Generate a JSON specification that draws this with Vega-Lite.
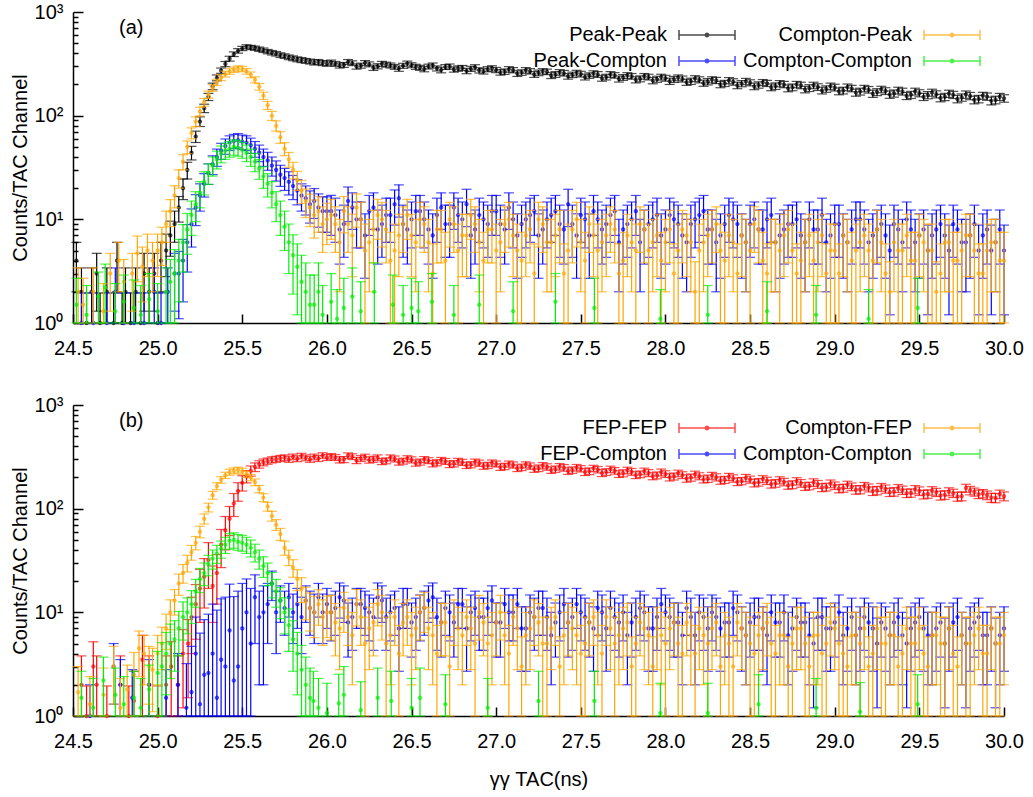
{
"$schema":"https://vega.github.io/schema/vega-lite/v6.json",
"background":"white",
"padding":{"left":10,"top":2,"right":5,"bottom":5},
"config":{"font":"Liberation Sans","view":{"stroke":null},
"axis":{"grid":false,"domainColor":"#000000","domainWidth":1.5,"tickColor":"#000000","tickWidth":1.5,"labelFont":"Liberation Sans","labelFontSize":20,"labelColor":"#000000","titleFont":"Liberation Sans","titleFontSize":20,"titleFontWeight":"normal","titleColor":"#000000"},
"legend":{"labelFont":"Liberation Sans","labelFontSize":20,"labelColor":"#000000"}},
"spacing":37,
"resolve":{"scale":{"color":"independent","x":"independent","y":"independent"}},
"datasets":{
"aPP":[{"x":24.52,"y":4,"e":2},{"x":24.55,"y":2,"e":1.4},{"x":24.58,"y":1,"e":0.95},{"x":24.61,"y":2,"e":1.4},{"x":24.64,"y":3,"e":1.7},{"x":24.66,"y":1,"e":0.95},{"x":24.7,"y":2,"e":1.4},{"x":24.74,"y":1,"e":0.95},{"x":24.76,"y":4,"e":2},{"x":24.79,"y":1,"e":0.95},{"x":24.81,"y":2,"e":1.4},{"x":24.84,"y":1,"e":0.95},{"x":24.87,"y":2,"e":1.4},{"x":24.9,"y":1,"e":0.95},{"x":24.92,"y":3,"e":1.7},{"x":24.95,"y":2,"e":1.4},{"x":24.98,"y":3,"e":1.7},{"x":25.0,"y":1,"e":0.95},{"x":25.02,"y":4,"e":2},{"x":25.05,"y":5,"e":2.2},{"x":25.075,"y":7,"e":2.6},{"x":25.1,"y":9,"e":3},{"x":25.125,"y":13,"e":3.6},{"x":25.15,"y":20,"e":4.5},{"x":25.175,"y":30,"e":5.5},{"x":25.2,"y":44,"e":6.6},{"x":25.225,"y":63,"e":7.9},{"x":25.25,"y":88,"e":9.4},{"x":25.275,"y":118,"e":11},{"x":25.3,"y":152,"e":12},{"x":25.325,"y":192,"e":14},{"x":25.35,"y":232,"e":15},{"x":25.375,"y":272,"e":16},{"x":25.4,"y":315,"e":18},{"x":25.425,"y":355,"e":19},{"x":25.45,"y":392,"e":20},{"x":25.475,"y":422,"e":21},{"x":25.5,"y":445,"e":21},{"x":25.525,"y":462,"e":21},{"x":25.55,"y":455,"e":21},{"x":25.575,"y":448,"e":21},{"x":25.6,"y":438,"e":21},{"x":25.625,"y":428,"e":21},{"x":25.65,"y":415,"e":20},{"x":25.675,"y":405,"e":20},{"x":25.7,"y":396,"e":20},{"x":25.725,"y":384,"e":20},{"x":25.75,"y":376,"e":19},{"x":25.775,"y":366,"e":19},{"x":25.8,"y":358,"e":19},{"x":25.825,"y":350,"e":19},{"x":25.85,"y":344,"e":19},{"x":25.875,"y":338,"e":18},{"x":25.9,"y":333,"e":18},{"x":25.925,"y":326,"e":18},{"x":25.95,"y":330,"e":18},{"x":25.975,"y":322,"e":18},{"x":26.0,"y":318,"e":18},
{"x":26.05,"y":316,"e":17},{"x":26.1,"y":309,"e":17},{"x":26.15,"y":321,"e":17},{"x":26.2,"y":304,"e":17},{"x":26.25,"y":313,"e":17},{"x":26.3,"y":300,"e":17},{"x":26.35,"y":311,"e":17},{"x":26.4,"y":296,"e":16},{"x":26.45,"y":303,"e":17},{"x":26.5,"y":307,"e":17},{"x":26.55,"y":290,"e":16},{"x":26.6,"y":298,"e":16},{"x":26.65,"y":286,"e":16},{"x":26.7,"y":295,"e":16},{"x":26.75,"y":279,"e":16},{"x":26.8,"y":289,"e":16},{"x":26.85,"y":283,"e":16},{"x":26.9,"y":274,"e":16},{"x":26.95,"y":281,"e":16},{"x":27.0,"y":276,"e":16},{"x":27.05,"y":266,"e":16},{"x":27.1,"y":275,"e":16},{"x":27.15,"y":261,"e":16},{"x":27.2,"y":268,"e":16},{"x":27.25,"y":259,"e":16},{"x":27.3,"y":265,"e":16},{"x":27.35,"y":250,"e":16},{"x":27.4,"y":257,"e":16},{"x":27.45,"y":248,"e":15},{"x":27.5,"y":252,"e":16},{"x":27.55,"y":244,"e":15},{"x":27.6,"y":250,"e":16},{"x":27.65,"y":236,"e":15},{"x":27.7,"y":245,"e":15},{"x":27.75,"y":234,"e":15},{"x":27.8,"y":240,"e":15},{"x":27.85,"y":227,"e":15},{"x":27.9,"y":236,"e":15},{"x":27.95,"y":225,"e":15},{"x":28.0,"y":230,"e":15},{"x":28.05,"y":224,"e":15},{"x":28.1,"y":226,"e":15},{"x":28.15,"y":215,"e":15},{"x":28.2,"y":222,"e":15},{"x":28.25,"y":213,"e":15},{"x":28.3,"y":219,"e":15},{"x":28.35,"y":205,"e":14},{"x":28.4,"y":212,"e":15},{"x":28.45,"y":204,"e":14},{"x":28.5,"y":208,"e":14},{"x":28.55,"y":198,"e":14},{"x":28.6,"y":205,"e":14},{"x":28.65,"y":193,"e":14},{"x":28.7,"y":200,"e":14},{"x":28.75,"y":188,"e":14},{"x":28.8,"y":196,"e":14},{"x":28.85,"y":185,"e":14},{"x":28.9,"y":189,"e":14},{"x":28.95,"y":181,"e":13},{"x":29.0,"y":187,"e":14},{"x":29.05,"y":175,"e":13},{"x":29.1,"y":183,"e":13},{"x":29.15,"y":171,"e":13},{"x":29.2,"y":178,"e":13},{"x":29.25,"y":169,"e":13},{"x":29.3,"y":173,"e":13},{"x":29.35,"y":164,"e":13},{"x":29.4,"y":171,"e":13},{"x":29.45,"y":159,"e":12.6},{"x":29.5,"y":165,"e":13},{"x":29.55,"y":158,"e":12.6},{"x":29.6,"y":161,"e":12.7},{"x":29.65,"y":152,"e":12.3},{"x":29.7,"y":159,"e":12.6},{"x":29.75,"y":150,"e":12.2},{"x":29.8,"y":155,"e":12.4},{"x":29.85,"y":145,"e":12},{"x":29.9,"y":153,"e":12.4},{"x":29.95,"y":142,"e":12},{"x":30.0,"y":147,"e":12.1},
{"x":26.025,"y":325,"e":18},{"x":26.075,"y":305,"e":17},{"x":26.125,"y":330,"e":18},{"x":26.175,"y":298,"e":17},{"x":26.225,"y":322,"e":18},{"x":26.275,"y":290,"e":17},{"x":26.325,"y":316,"e":18},{"x":26.375,"y":305,"e":17},{"x":26.425,"y":285,"e":17},{"x":26.475,"y":318,"e":18},{"x":26.525,"y":296,"e":17},{"x":26.575,"y":282,"e":17},{"x":26.625,"y":305,"e":17},{"x":26.675,"y":276,"e":17},{"x":26.725,"y":298,"e":17},{"x":26.775,"y":285,"e":17},{"x":26.825,"y":270,"e":16},{"x":26.875,"y":293,"e":17},{"x":26.925,"y":268,"e":16},{"x":26.975,"y":286,"e":17},{"x":27.025,"y":262,"e":16},{"x":27.075,"y":280,"e":17},{"x":27.125,"y":255,"e":16},{"x":27.175,"y":274,"e":17},{"x":27.225,"y":250,"e":16},{"x":27.275,"y":268,"e":16},{"x":27.325,"y":244,"e":16},{"x":27.375,"y":262,"e":16},{"x":27.425,"y":240,"e":15},{"x":27.475,"y":258,"e":16},{"x":27.525,"y":236,"e":15},{"x":27.575,"y":255,"e":16},{"x":27.625,"y":230,"e":15},{"x":27.675,"y":250,"e":16},{"x":27.725,"y":226,"e":15},{"x":27.775,"y":244,"e":16},{"x":27.825,"y":222,"e":15},{"x":27.875,"y":240,"e":15},{"x":27.925,"y":218,"e":15},{"x":27.975,"y":236,"e":15},{"x":28.025,"y":215,"e":15},{"x":28.075,"y":232,"e":15},{"x":28.125,"y":210,"e":14},{"x":28.175,"y":228,"e":15},{"x":28.225,"y":206,"e":14},{"x":28.275,"y":222,"e":15},{"x":28.325,"y":200,"e":14},{"x":28.375,"y":218,"e":15},{"x":28.425,"y":196,"e":14},{"x":28.475,"y":214,"e":15},{"x":28.525,"y":192,"e":14},{"x":28.575,"y":209,"e":14},{"x":28.625,"y":188,"e":14},{"x":28.675,"y":204,"e":14},{"x":28.725,"y":184,"e":14},{"x":28.775,"y":200,"e":14},{"x":28.825,"y":179,"e":13},{"x":28.875,"y":196,"e":14},{"x":28.925,"y":175,"e":13},{"x":28.975,"y":192,"e":14},{"x":29.025,"y":172,"e":13},{"x":29.075,"y":188,"e":14},{"x":29.125,"y":167,"e":13},{"x":29.175,"y":183,"e":13},{"x":29.225,"y":163,"e":13},{"x":29.275,"y":179,"e":13},{"x":29.325,"y":160,"e":13},{"x":29.375,"y":175,"e":13},{"x":29.425,"y":155,"e":12},{"x":29.475,"y":171,"e":13},{"x":29.525,"y":152,"e":12},{"x":29.575,"y":167,"e":13},{"x":29.625,"y":148,"e":12},{"x":29.675,"y":163,"e":13},{"x":29.725,"y":145,"e":12},{"x":29.775,"y":160,"e":13},{"x":29.825,"y":142,"e":12},{"x":29.875,"y":156,"e":12},{"x":29.925,"y":139,"e":12},{"x":29.975,"y":152,"e":12}],
"aPC":[{"x":24.55,"y":1,"e":0.95},{"x":24.62,"y":1,"e":0.95},{"x":24.7,"y":1,"e":0.95},{"x":24.75,"y":2,"e":1.4},{"x":24.8,"y":1,"e":0.95},{"x":24.86,"y":1,"e":0.95},{"x":24.92,"y":1,"e":0.95},{"x":24.98,"y":2,"e":1.4},{"x":25.02,"y":1,"e":0.95},{"x":25.06,"y":2,"e":1.4},{"x":25.1,"y":3,"e":1.7},{"x":25.125,"y":3,"e":1.9},{"x":25.15,"y":4,"e":2.4},{"x":25.175,"y":6,"e":2.9},{"x":25.2,"y":9,"e":3.6},{"x":25.225,"y":13,"e":4.3},{"x":25.25,"y":17,"e":5},{"x":25.275,"y":22,"e":5.6},{"x":25.3,"y":28,"e":6.3},{"x":25.325,"y":34,"e":7},{"x":25.35,"y":40,"e":7.6},{"x":25.375,"y":46,"e":8.1},{"x":25.4,"y":51,"e":8.6},{"x":25.425,"y":55,"e":8.9},{"x":25.45,"y":57,"e":9},{"x":25.475,"y":58,"e":9.1},{"x":25.5,"y":56,"e":9},{"x":25.525,"y":55,"e":8.9},{"x":25.55,"y":52,"e":8.7},{"x":25.575,"y":48,"e":8.3},{"x":25.6,"y":44,"e":8},{"x":25.625,"y":40,"e":7.6},{"x":25.65,"y":37,"e":7.3},{"x":25.675,"y":33,"e":6.9},{"x":25.7,"y":30,"e":6.6},{"x":25.725,"y":27,"e":6.2},{"x":25.75,"y":25,"e":6},{"x":25.775,"y":23,"e":5.8},{"x":25.8,"y":21,"e":5.5},{"x":25.825,"y":19,"e":5.2},{"x":25.85,"y":17,"e":5},{"x":25.875,"y":16,"e":5},{"x":25.9,"y":14,"e":4.8},{"x":25.925,"y":15,"e":4.8},{"x":25.95,"y":13,"e":4.6},{"x":25.975,"y":12,"e":4.5},{"x":26.0,"y":12,"e":4.5},
{"x":26.05,"y":11,"e":5},{"x":26.1,"y":9,"e":4.7},{"x":26.15,"y":13,"e":5},{"x":26.2,"y":10,"e":4.7},{"x":26.25,"y":12,"e":5},{"x":26.3,"y":8,"e":4.3},{"x":26.35,"y":11,"e":5},{"x":26.4,"y":14,"e":5.2},{"x":26.45,"y":9,"e":4.7},{"x":26.5,"y":10,"e":4.7},{"x":26.55,"y":12,"e":5},{"x":26.6,"y":8,"e":4.3},{"x":26.65,"y":11,"e":5},{"x":26.7,"y":9,"e":4.7},{"x":26.75,"y":13,"e":5},{"x":26.8,"y":10,"e":4.7},{"x":26.85,"y":7,"e":4.3},{"x":26.9,"y":11,"e":5},{"x":26.95,"y":9,"e":4.7},{"x":27.0,"y":12,"e":5},{"x":27.05,"y":8,"e":4.3},{"x":27.1,"y":10,"e":4.7},{"x":27.15,"y":9,"e":4.7},{"x":27.2,"y":11,"e":5},{"x":27.25,"y":7,"e":4.3},{"x":27.3,"y":10,"e":4.7},{"x":27.35,"y":12,"e":5},{"x":27.4,"y":8,"e":4.3},{"x":27.45,"y":9,"e":4.7},{"x":27.5,"y":11,"e":5},{"x":27.55,"y":7,"e":4.3},{"x":27.6,"y":10,"e":4.7},{"x":27.65,"y":9,"e":4.7},{"x":27.7,"y":12,"e":5},{"x":27.75,"y":8,"e":4.3},{"x":27.8,"y":10,"e":4.7},{"x":27.85,"y":6,"e":4},{"x":27.9,"y":9,"e":4.7},{"x":27.95,"y":11,"e":5},{"x":28.0,"y":8,"e":4.3},{"x":28.05,"y":10,"e":4.7},{"x":28.1,"y":7,"e":4.3},{"x":28.15,"y":9,"e":4.7},{"x":28.2,"y":11,"e":5},{"x":28.25,"y":8,"e":4.3},{"x":28.3,"y":6,"e":4},{"x":28.35,"y":9,"e":4.7},{"x":28.4,"y":10,"e":4.7},{"x":28.45,"y":7,"e":4.3},{"x":28.5,"y":9,"e":4.7},{"x":28.55,"y":8,"e":4.3},{"x":28.6,"y":10,"e":4.7},{"x":28.65,"y":6,"e":4},{"x":28.7,"y":8,"e":4.3},{"x":28.75,"y":9,"e":4.7},{"x":28.8,"y":7,"e":4.3},{"x":28.85,"y":10,"e":4.7},{"x":28.9,"y":8,"e":4.3},{"x":28.95,"y":6,"e":4},{"x":29.0,"y":9,"e":4.7},{"x":29.05,"y":7,"e":4.3},{"x":29.1,"y":8,"e":4.3},{"x":29.15,"y":10,"e":4.7},{"x":29.2,"y":6,"e":4},{"x":29.25,"y":8,"e":4.3},{"x":29.3,"y":7,"e":4.3},{"x":29.35,"y":9,"e":4.7},{"x":29.4,"y":6,"e":4},{"x":29.45,"y":8,"e":4.3},{"x":29.5,"y":7,"e":4.3},{"x":29.55,"y":5,"e":3.8},{"x":29.6,"y":8,"e":4.3},{"x":29.65,"y":7,"e":4.3},{"x":29.7,"y":9,"e":4.7},{"x":29.75,"y":6,"e":4},{"x":29.8,"y":7,"e":4.3},{"x":29.85,"y":5,"e":3.8},{"x":29.9,"y":8,"e":4.3},{"x":29.95,"y":6,"e":4},{"x":30.0,"y":5,"e":3.8},
{"x":26.025,"y":12,"e":5},{"x":26.075,"y":8,"e":4.3},{"x":26.125,"y":15,"e":5.5},{"x":26.175,"y":10,"e":4.7},{"x":26.225,"y":7,"e":4.3},{"x":26.275,"y":13,"e":5},{"x":26.325,"y":9,"e":4.7},{"x":26.375,"y":11,"e":5},{"x":26.425,"y":16,"e":5.5},{"x":26.475,"y":8,"e":4.3},{"x":26.525,"y":12,"e":5},{"x":26.575,"y":10,"e":4.7},{"x":26.625,"y":7,"e":4.3},{"x":26.675,"y":13,"e":5},{"x":26.725,"y":9,"e":4.7},{"x":26.775,"y":11,"e":5},{"x":26.825,"y":14,"e":5.5},{"x":26.875,"y":8,"e":4.3},{"x":26.925,"y":10,"e":4.7},{"x":26.975,"y":12,"e":5},{"x":27.025,"y":9,"e":4.7},{"x":27.075,"y":13,"e":5},{"x":27.125,"y":7,"e":4.3},{"x":27.175,"y":10,"e":4.7},{"x":27.225,"y":12,"e":5},{"x":27.275,"y":8,"e":4.3},{"x":27.325,"y":11,"e":5},{"x":27.375,"y":9,"e":4.7},{"x":27.425,"y":14,"e":5.5},{"x":27.475,"y":7,"e":4.3},{"x":27.525,"y":10,"e":4.7},{"x":27.575,"y":12,"e":5},{"x":27.625,"y":8,"e":4.3},{"x":27.675,"y":11,"e":5},{"x":27.725,"y":6,"e":4},{"x":27.775,"y":9,"e":4.7},{"x":27.825,"y":12,"e":5},{"x":27.875,"y":8,"e":4.3},{"x":27.925,"y":10,"e":4.7},{"x":27.975,"y":7,"e":4.3},{"x":28.025,"y":11,"e":5},{"x":28.075,"y":9,"e":4.7},{"x":28.125,"y":6,"e":4},{"x":28.175,"y":10,"e":4.7},{"x":28.225,"y":12,"e":5},{"x":28.275,"y":8,"e":4.3},{"x":28.325,"y":7,"e":4.3},{"x":28.375,"y":11,"e":5},{"x":28.425,"y":9,"e":4.7},{"x":28.475,"y":6,"e":4},{"x":28.525,"y":10,"e":4.7},{"x":28.575,"y":8,"e":4.3},{"x":28.625,"y":11,"e":5},{"x":28.675,"y":7,"e":4.3},{"x":28.725,"y":9,"e":4.7},{"x":28.775,"y":10,"e":4.7},{"x":28.825,"y":6,"e":4},{"x":28.875,"y":8,"e":4.3},{"x":28.925,"y":11,"e":5},{"x":28.975,"y":7,"e":4.3},{"x":29.025,"y":9,"e":4.7},{"x":29.075,"y":6,"e":4},{"x":29.125,"y":10,"e":4.7},{"x":29.175,"y":8,"e":4.3},{"x":29.225,"y":7,"e":4.3},{"x":29.275,"y":9,"e":4.7},{"x":29.325,"y":5,"e":3.8},{"x":29.375,"y":8,"e":4.3},{"x":29.425,"y":10,"e":4.7},{"x":29.475,"y":6,"e":4},{"x":29.525,"y":8,"e":4.3},{"x":29.575,"y":7,"e":4.3},{"x":29.625,"y":9,"e":4.7},{"x":29.675,"y":5,"e":3.8},{"x":29.725,"y":8,"e":4.3},{"x":29.775,"y":6,"e":4},{"x":29.825,"y":9,"e":4.7},{"x":29.875,"y":7,"e":4.3},{"x":29.925,"y":5,"e":3.8},{"x":29.975,"y":8,"e":4.3}],
"aCP":[{"x":24.53,"y":2,"e":1.4},{"x":24.56,"y":1.5,"e":1.2},{"x":24.62,"y":2,"e":1.4},{"x":24.68,"y":1.3,"e":1.1},{"x":24.72,"y":3,"e":1.7},{"x":24.77,"y":4,"e":2},{"x":24.8,"y":2.5,"e":1.6},{"x":24.85,"y":3,"e":1.7},{"x":24.88,"y":4.7,"e":2.2},{"x":24.91,"y":3.5,"e":1.9},{"x":24.94,"y":5,"e":2.2},{"x":24.97,"y":4,"e":2},{"x":25.0,"y":5,"e":2.2},{"x":25.025,"y":6,"e":2.4},{"x":25.05,"y":9,"e":3},{"x":25.075,"y":12,"e":3.5},{"x":25.1,"y":17,"e":4.1},{"x":25.125,"y":25,"e":5},{"x":25.15,"y":36,"e":6},{"x":25.175,"y":50,"e":7},{"x":25.2,"y":68,"e":8.2},{"x":25.225,"y":88,"e":9.4},{"x":25.25,"y":110,"e":10.5},{"x":25.275,"y":135,"e":11.6},{"x":25.3,"y":160,"e":12.6},{"x":25.325,"y":185,"e":13.6},{"x":25.35,"y":210,"e":14.5},{"x":25.375,"y":233,"e":15.3},{"x":25.4,"y":252,"e":15.9},{"x":25.425,"y":267,"e":16.3},{"x":25.45,"y":278,"e":16.7},{"x":25.475,"y":285,"e":16.9},{"x":25.5,"y":282,"e":16.8},{"x":25.525,"y":268,"e":16.4},{"x":25.55,"y":248,"e":15.7},{"x":25.575,"y":222,"e":14.9},{"x":25.6,"y":190,"e":13.8},{"x":25.625,"y":156,"e":12.5},{"x":25.65,"y":126,"e":11.2},{"x":25.675,"y":100,"e":10},{"x":25.7,"y":80,"e":8.9},{"x":25.725,"y":62,"e":7.9},{"x":25.75,"y":48,"e":6.9},{"x":25.775,"y":38,"e":6.2},{"x":25.8,"y":30,"e":5.5},{"x":25.825,"y":24,"e":5},{"x":25.85,"y":19,"e":4.8},{"x":25.875,"y":15,"e":4.6},{"x":25.9,"y":13,"e":4.5},{"x":25.925,"y":11,"e":4.4},{"x":25.95,"y":12,"e":4.5},{"x":25.975,"y":9,"e":4.2},{"x":26.0,"y":10,"e":4.3},
{"x":26.05,"y":9,"e":4.2},{"x":26.1,"y":12,"e":4.6},{"x":26.15,"y":7,"e":4.2},{"x":26.2,"y":10,"e":4.6},{"x":26.25,"y":6,"e":4},{"x":26.3,"y":11,"e":4.6},{"x":26.35,"y":8,"e":4.2},{"x":26.4,"y":5,"e":4},{"x":26.45,"y":9,"e":4.2},{"x":26.5,"y":7,"e":4.2},{"x":26.55,"y":10,"e":4.6},{"x":26.6,"y":6,"e":4},{"x":26.65,"y":8,"e":4.2},{"x":26.7,"y":4,"e":3.5},{"x":26.75,"y":9,"e":4.2},{"x":26.8,"y":7,"e":4.2},{"x":26.85,"y":11,"e":4.6},{"x":26.9,"y":6,"e":4},{"x":26.95,"y":8,"e":4.2},{"x":27.0,"y":5,"e":4},{"x":27.05,"y":9,"e":4.2},{"x":27.1,"y":7,"e":4.2},{"x":27.15,"y":4,"e":3.5},{"x":27.2,"y":8,"e":4.2},{"x":27.25,"y":10,"e":4.6},{"x":27.3,"y":6,"e":4},{"x":27.35,"y":7,"e":4.2},{"x":27.4,"y":3,"e":2.8},{"x":27.45,"y":8,"e":4.2},{"x":27.5,"y":6,"e":4},{"x":27.55,"y":9,"e":4.2},{"x":27.6,"y":5,"e":4},{"x":27.65,"y":7,"e":4.2},{"x":27.7,"y":8,"e":4.2},{"x":27.75,"y":4,"e":3.5},{"x":27.8,"y":6,"e":4},{"x":27.85,"y":9,"e":4.2},{"x":27.9,"y":5,"e":4},{"x":27.95,"y":7,"e":4.2},{"x":28.0,"y":6,"e":4},{"x":28.05,"y":3,"e":2.8},{"x":28.1,"y":8,"e":4.2},{"x":28.15,"y":6,"e":4},{"x":28.2,"y":5,"e":4},{"x":28.25,"y":7,"e":4.2},{"x":28.3,"y":9,"e":4.2},{"x":28.35,"y":4,"e":3.5},{"x":28.4,"y":6,"e":4},{"x":28.45,"y":7,"e":4.2},{"x":28.5,"y":5,"e":4},{"x":28.55,"y":8,"e":4.2},{"x":28.6,"y":3,"e":2.8},{"x":28.65,"y":6,"e":4},{"x":28.7,"y":7,"e":4.2},{"x":28.75,"y":5,"e":4},{"x":28.8,"y":4,"e":3.5},{"x":28.85,"y":7,"e":4.2},{"x":28.9,"y":6,"e":4},{"x":28.95,"y":3,"e":2.8},{"x":29.0,"y":5,"e":4},{"x":29.05,"y":7,"e":4.2},{"x":29.1,"y":4,"e":3.5},{"x":29.15,"y":6,"e":4},{"x":29.2,"y":5,"e":4},{"x":29.25,"y":8,"e":4.2},{"x":29.3,"y":3,"e":2.8},{"x":29.35,"y":6,"e":4},{"x":29.4,"y":5,"e":4},{"x":29.45,"y":4,"e":3.5},{"x":29.5,"y":7,"e":4.2},{"x":29.55,"y":5,"e":4},{"x":29.6,"y":2,"e":1.9},{"x":29.65,"y":6,"e":4},{"x":29.7,"y":4,"e":3.5},{"x":29.75,"y":5,"e":4},{"x":29.8,"y":7,"e":4.2},{"x":29.85,"y":3,"e":2.8},{"x":29.9,"y":5,"e":4},{"x":29.95,"y":6,"e":4},{"x":30.0,"y":4,"e":3.5},
{"x":26.025,"y":11,"e":4.6},{"x":26.075,"y":6,"e":4},{"x":26.125,"y":9,"e":4.2},{"x":26.175,"y":13,"e":4.6},{"x":26.225,"y":5,"e":4},{"x":26.275,"y":8,"e":4.2},{"x":26.325,"y":10,"e":4.6},{"x":26.375,"y":4,"e":3.5},{"x":26.425,"y":7,"e":4.2},{"x":26.475,"y":11,"e":4.6},{"x":26.525,"y":6,"e":4},{"x":26.575,"y":9,"e":4.2},{"x":26.625,"y":3,"e":2.8},{"x":26.675,"y":8,"e":4.2},{"x":26.725,"y":10,"e":4.6},{"x":26.775,"y":5,"e":4},{"x":26.825,"y":7,"e":4.2},{"x":26.875,"y":9,"e":4.2},{"x":26.925,"y":4,"e":3.5},{"x":26.975,"y":8,"e":4.2},{"x":27.025,"y":6,"e":4},{"x":27.075,"y":10,"e":4.6},{"x":27.125,"y":5,"e":4},{"x":27.175,"y":7,"e":4.2},{"x":27.225,"y":3,"e":2.8},{"x":27.275,"y":9,"e":4.2},{"x":27.325,"y":6,"e":4},{"x":27.375,"y":8,"e":4.2},{"x":27.425,"y":5,"e":4},{"x":27.475,"y":10,"e":4.6},{"x":27.525,"y":4,"e":3.5},{"x":27.575,"y":7,"e":4.2},{"x":27.625,"y":6,"e":4},{"x":27.675,"y":9,"e":4.2},{"x":27.725,"y":3,"e":2.8},{"x":27.775,"y":7,"e":4.2},{"x":27.825,"y":5,"e":4},{"x":27.875,"y":8,"e":4.2},{"x":27.925,"y":6,"e":4},{"x":27.975,"y":4,"e":3.5},{"x":28.025,"y":8,"e":4.2},{"x":28.075,"y":5,"e":4},{"x":28.125,"y":7,"e":4.2},{"x":28.175,"y":2,"e":1.9},{"x":28.225,"y":6,"e":4},{"x":28.275,"y":8,"e":4.2},{"x":28.325,"y":5,"e":4},{"x":28.375,"y":7,"e":4.2},{"x":28.425,"y":3,"e":2.8},{"x":28.475,"y":6,"e":4},{"x":28.525,"y":9,"e":4.2},{"x":28.575,"y":4,"e":3.5},{"x":28.625,"y":6,"e":4},{"x":28.675,"y":5,"e":4},{"x":28.725,"y":8,"e":4.2},{"x":28.775,"y":3,"e":2.8},{"x":28.825,"y":6,"e":4},{"x":28.875,"y":4,"e":3.5},{"x":28.925,"y":7,"e":4.2},{"x":28.975,"y":5,"e":4},{"x":29.025,"y":3,"e":2.8},{"x":29.075,"y":6,"e":4},{"x":29.125,"y":5,"e":4},{"x":29.175,"y":7,"e":4.2},{"x":29.225,"y":4,"e":3.5},{"x":29.275,"y":6,"e":4},{"x":29.325,"y":2,"e":1.9},{"x":29.375,"y":5,"e":4},{"x":29.425,"y":7,"e":4.2},{"x":29.475,"y":4,"e":3.5},{"x":29.525,"y":6,"e":4},{"x":29.575,"y":5,"e":4},{"x":29.625,"y":3,"e":2.8},{"x":29.675,"y":6,"e":4},{"x":29.725,"y":4,"e":3.5},{"x":29.775,"y":7,"e":4.2},{"x":29.825,"y":5,"e":4},{"x":29.875,"y":3,"e":2.8},{"x":29.925,"y":6,"e":4},{"x":29.975,"y":4,"e":3.5}],
"aCC":[{"x":24.52,"y":1.5,"e":1.2},{"x":24.58,"y":1.2,"e":1.1},{"x":24.65,"y":1.8,"e":1.3},{"x":24.69,"y":2.2,"e":1.5},{"x":24.75,"y":1.3,"e":1.1},{"x":24.8,"y":1.6,"e":1.3},{"x":24.86,"y":1.4,"e":1.2},{"x":24.9,"y":1.2,"e":1.1},{"x":24.95,"y":1.7,"e":1.3},{"x":25.0,"y":1.3,"e":1.1},{"x":25.05,"y":2,"e":1.4},{"x":25.075,"y":2.5,"e":1.6},{"x":25.1,"y":3,"e":2.1},{"x":25.125,"y":4,"e":2.4},{"x":25.15,"y":6,"e":2.9},{"x":25.175,"y":8,"e":3.4},{"x":25.2,"y":11,"e":4},{"x":25.225,"y":14,"e":4.5},{"x":25.25,"y":18,"e":5.1},{"x":25.275,"y":23,"e":5.8},{"x":25.3,"y":28,"e":6.3},{"x":25.325,"y":33,"e":6.9},{"x":25.35,"y":38,"e":7.4},{"x":25.375,"y":43,"e":7.9},{"x":25.4,"y":46,"e":8.1},{"x":25.425,"y":48,"e":8.3},{"x":25.45,"y":50,"e":8.5},{"x":25.475,"y":49,"e":8.4},{"x":25.5,"y":47,"e":8.2},{"x":25.525,"y":44,"e":8},{"x":25.55,"y":40,"e":7.6},{"x":25.575,"y":36,"e":7.2},{"x":25.6,"y":31,"e":6.7},{"x":25.625,"y":26,"e":6.1},{"x":25.65,"y":22,"e":5.6},{"x":25.675,"y":18,"e":5.1},{"x":25.7,"y":14,"e":4.5},{"x":25.725,"y":11,"e":4},{"x":25.75,"y":8.5,"e":3.5},{"x":25.775,"y":6,"e":3},{"x":25.8,"y":4.5,"e":2.6},{"x":25.825,"y":3.5,"e":2.3},{"x":25.85,"y":2.5,"e":2},{"x":25.875,"y":2,"e":1.8},{"x":25.9,"y":1.5,"e":1.4},{"x":25.925,"y":1.5,"e":1.4},{"x":25.95,"y":2,"e":1.8},{"x":25.975,"y":1.2,"e":1.1},{"x":26.025,"y":1.6,"e":1.4},{"x":26.06,"y":1.1,"e":1},{"x":26.1,"y":1.4,"e":1.3},{"x":26.15,"y":1.8,"e":1.6},{"x":26.2,"y":1.3,"e":1.2},{"x":26.28,"y":2,"e":1.8},{"x":26.39,"y":1.5,"e":1.4},{"x":26.45,"y":1.2,"e":1.1},{"x":26.5,"y":1.4,"e":1.3},{"x":26.54,"y":1.3,"e":1.2},{"x":26.62,"y":1.6,"e":1.4},{"x":26.75,"y":1.2,"e":1.1},{"x":26.9,"y":1.5,"e":1.4},{"x":27.1,"y":1.3,"e":1.2},{"x":27.35,"y":1.6,"e":1.4},{"x":27.58,"y":1.4,"e":1.3},{"x":27.97,"y":1.1,"e":1},{"x":28.25,"y":1.2,"e":1.1},{"x":28.6,"y":1.3,"e":1.2},{"x":28.89,"y":1.2,"e":1.1},{"x":29.2,"y":1.1,"e":1},{"x":29.49,"y":1.4,"e":1.3}],
"bFF":[{"x":24.55,"y":2,"e":1.8},{"x":24.58,"y":1,"e":0.95},{"x":24.62,"y":3,"e":2.2},{"x":24.64,"y":2,"e":1.8},{"x":24.7,"y":1,"e":0.95},{"x":24.78,"y":2,"e":1.8},{"x":24.83,"y":1,"e":0.95},{"x":24.86,"y":1.4,"e":1.3},{"x":24.91,"y":3.5,"e":2.5},{"x":24.95,"y":2,"e":1.8},{"x":25.0,"y":1,"e":0.95},{"x":25.05,"y":2,"e":1.8},{"x":25.08,"y":3,"e":2.2},{"x":25.12,"y":2,"e":1.8},{"x":25.15,"y":4,"e":2.8},{"x":25.18,"y":5,"e":3.5},{"x":25.2,"y":9,"e":5},{"x":25.225,"y":12,"e":6.5},{"x":25.25,"y":17,"e":9},{"x":25.275,"y":22,"e":11},{"x":25.3,"y":32,"e":15},{"x":25.325,"y":18,"e":10},{"x":25.35,"y":24,"e":12},{"x":25.375,"y":45,"e":18},{"x":25.4,"y":62,"e":22},{"x":25.425,"y":80,"e":25},{"x":25.45,"y":112,"e":28},{"x":25.475,"y":148,"e":30},{"x":25.5,"y":178,"e":30},{"x":25.525,"y":205,"e":28},{"x":25.55,"y":232,"e":26},{"x":25.575,"y":252,"e":24},{"x":25.6,"y":268,"e":22},{"x":25.625,"y":280,"e":21},{"x":25.65,"y":288,"e":20},{"x":25.675,"y":296,"e":20},{"x":25.7,"y":300,"e":20},{"x":25.725,"y":306,"e":20},{"x":25.75,"y":310,"e":20},{"x":25.775,"y":300,"e":20},{"x":25.8,"y":316,"e":20},{"x":25.825,"y":304,"e":20},{"x":25.85,"y":322,"e":20},{"x":25.875,"y":310,"e":20},{"x":25.9,"y":300,"e":20},{"x":25.925,"y":316,"e":20},{"x":25.95,"y":305,"e":20},{"x":25.975,"y":326,"e":20},{"x":26.0,"y":312,"e":20},
{"x":26.05,"y":312,"e":20},{"x":26.1,"y":298,"e":20},{"x":26.15,"y":318,"e":20},{"x":26.2,"y":305,"e":20},{"x":26.25,"y":295,"e":20},{"x":26.3,"y":310,"e":20},{"x":26.35,"y":290,"e":19},{"x":26.4,"y":302,"e":20},{"x":26.45,"y":288,"e":19},{"x":26.5,"y":296,"e":20},{"x":26.55,"y":282,"e":19},{"x":26.6,"y":291,"e":19},{"x":26.65,"y":278,"e":19},{"x":26.7,"y":286,"e":19},{"x":26.75,"y":272,"e":19},{"x":26.8,"y":280,"e":19},{"x":26.85,"y":266,"e":18},{"x":26.9,"y":275,"e":19},{"x":26.95,"y":262,"e":18},{"x":27.0,"y":270,"e":18},{"x":27.05,"y":256,"e":18},{"x":27.1,"y":264,"e":18},{"x":27.15,"y":251,"e":18},{"x":27.2,"y":258,"e":18},{"x":27.25,"y":246,"e":18},{"x":27.3,"y":253,"e":18},{"x":27.35,"y":241,"e":17},{"x":27.4,"y":248,"e":18},{"x":27.45,"y":236,"e":17},{"x":27.5,"y":243,"e":17},{"x":27.55,"y":230,"e":17},{"x":27.6,"y":238,"e":17},{"x":27.65,"y":226,"e":17},{"x":27.7,"y":232,"e":17},{"x":27.75,"y":220,"e":17},{"x":27.8,"y":227,"e":17},{"x":27.85,"y":215,"e":16},{"x":27.9,"y":221,"e":17},{"x":27.95,"y":210,"e":16},{"x":28.0,"y":216,"e":16},{"x":28.05,"y":205,"e":16},{"x":28.1,"y":211,"e":16},{"x":28.15,"y":200,"e":16},{"x":28.2,"y":206,"e":16},{"x":28.25,"y":195,"e":16},{"x":28.3,"y":201,"e":16},{"x":28.35,"y":190,"e":15},{"x":28.4,"y":196,"e":16},{"x":28.45,"y":185,"e":15},{"x":28.5,"y":191,"e":15},{"x":28.55,"y":180,"e":15},{"x":28.6,"y":186,"e":15},{"x":28.65,"y":176,"e":15},{"x":28.7,"y":181,"e":15},{"x":28.75,"y":171,"e":15},{"x":28.8,"y":176,"e":15},{"x":28.85,"y":166,"e":14},{"x":28.9,"y":172,"e":15},{"x":28.95,"y":162,"e":14},{"x":29.0,"y":167,"e":14},{"x":29.05,"y":158,"e":14},{"x":29.1,"y":163,"e":14},{"x":29.15,"y":153,"e":14},{"x":29.2,"y":159,"e":14},{"x":29.25,"y":150,"e":14},{"x":29.3,"y":155,"e":14},{"x":29.35,"y":146,"e":14},{"x":29.4,"y":151,"e":14},{"x":29.45,"y":142,"e":13},{"x":29.5,"y":148,"e":14},{"x":29.55,"y":139,"e":13},{"x":29.6,"y":144,"e":13},{"x":29.65,"y":136,"e":13},{"x":29.7,"y":141,"e":13},{"x":29.75,"y":132,"e":13},{"x":29.8,"y":150,"e":14},{"x":29.85,"y":138,"e":13},{"x":29.9,"y":135,"e":13},{"x":29.95,"y":127,"e":13},{"x":30.0,"y":132,"e":13},
{"x":26.025,"y":320,"e":20},{"x":26.075,"y":296,"e":20},{"x":26.125,"y":325,"e":20},{"x":26.175,"y":292,"e":20},{"x":26.225,"y":315,"e":20},{"x":26.275,"y":300,"e":20},{"x":26.325,"y":285,"e":19},{"x":26.375,"y":310,"e":20},{"x":26.425,"y":282,"e":19},{"x":26.475,"y":304,"e":20},{"x":26.525,"y":276,"e":19},{"x":26.575,"y":298,"e":20},{"x":26.625,"y":272,"e":19},{"x":26.675,"y":293,"e":19},{"x":26.725,"y":268,"e":19},{"x":26.775,"y":287,"e":19},{"x":26.825,"y":262,"e":18},{"x":26.875,"y":282,"e":19},{"x":26.925,"y":258,"e":18},{"x":26.975,"y":276,"e":19},{"x":27.025,"y":252,"e":18},{"x":27.075,"y":270,"e":18},{"x":27.125,"y":246,"e":18},{"x":27.175,"y":265,"e":18},{"x":27.225,"y":241,"e":17},{"x":27.275,"y":260,"e":18},{"x":27.325,"y":236,"e":17},{"x":27.375,"y":254,"e":18},{"x":27.425,"y":231,"e":17},{"x":27.475,"y":249,"e":18},{"x":27.525,"y":226,"e":17},{"x":27.575,"y":245,"e":17},{"x":27.625,"y":221,"e":17},{"x":27.675,"y":240,"e":17},{"x":27.725,"y":216,"e":16},{"x":27.775,"y":234,"e":17},{"x":27.825,"y":211,"e":16},{"x":27.875,"y":229,"e":17},{"x":27.925,"y":206,"e":16},{"x":27.975,"y":224,"e":17},{"x":28.025,"y":201,"e":16},{"x":28.075,"y":219,"e":16},{"x":28.125,"y":196,"e":16},{"x":28.175,"y":214,"e":16},{"x":28.225,"y":192,"e":15},{"x":28.275,"y":208,"e":16},{"x":28.325,"y":187,"e":15},{"x":28.375,"y":203,"e":16},{"x":28.425,"y":182,"e":15},{"x":28.475,"y":198,"e":16},{"x":28.525,"y":177,"e":15},{"x":28.575,"y":193,"e":15},{"x":28.625,"y":173,"e":15},{"x":28.675,"y":188,"e":15},{"x":28.725,"y":168,"e":14},{"x":28.775,"y":184,"e":15},{"x":28.825,"y":164,"e":14},{"x":28.875,"y":179,"e":15},{"x":28.925,"y":160,"e":14},{"x":28.975,"y":174,"e":15},{"x":29.025,"y":156,"e":14},{"x":29.075,"y":170,"e":14},{"x":29.125,"y":152,"e":14},{"x":29.175,"y":165,"e":14},{"x":29.225,"y":148,"e":14},{"x":29.275,"y":161,"e":14},{"x":29.325,"y":144,"e":13},{"x":29.375,"y":157,"e":14},{"x":29.425,"y":141,"e":13},{"x":29.475,"y":153,"e":14},{"x":29.525,"y":137,"e":13},{"x":29.575,"y":149,"e":14},{"x":29.625,"y":134,"e":13},{"x":29.675,"y":146,"e":13},{"x":29.725,"y":131,"e":13},{"x":29.775,"y":158,"e":14},{"x":29.825,"y":145,"e":13},{"x":29.875,"y":140,"e":13},{"x":29.925,"y":128,"e":13},{"x":29.975,"y":138,"e":13}],
"bFC":[{"x":24.6,"y":1,"e":1,"m":-0.95},{"x":24.74,"y":3,"e":2,"m":-1.7},{"x":24.78,"y":2,"e":1.5,"m":-1.4},{"x":24.85,"y":1.5,"e":1.3,"m":-1.2},{"x":24.95,"y":2,"e":1.5,"m":-1.4},{"x":25.05,"y":1.5,"e":1.3,"m":-1.2},{"x":25.12,"y":2,"e":2,"m":-1.5},{"x":25.17,"y":1.2,"e":2,"m":-1.1},{"x":25.2,"y":1.7,"e":3,"m":-1.5},{"x":25.225,"y":4,"e":5,"m":-3.7},{"x":25.25,"y":1.3,"e":5,"m":-1.2},{"x":25.275,"y":2.5,"e":6,"m":-2.4},{"x":25.3,"y":2.6,"e":7,"m":-2.5},{"x":25.325,"y":4,"e":8,"m":-3.8},{"x":25.35,"y":1.5,"e":9,"m":-1.4},{"x":25.375,"y":3.5,"e":10,"m":-3.4},{"x":25.4,"y":3,"e":11,"m":-2.9},{"x":25.425,"y":6.7,"e":12,"m":-6.5},{"x":25.45,"y":2.2,"e":12,"m":-2.1},{"x":25.475,"y":3,"e":13,"m":-2.9},{"x":25.5,"y":7,"e":12,"m":-6.8},{"x":25.525,"y":10,"e":11,"m":-9.5},{"x":25.55,"y":5,"e":12,"m":-4.9},{"x":25.575,"y":14,"e":9,"m":-9},{"x":25.6,"y":9,"e":7,"m":-7},{"x":25.625,"y":10,"e":8,"m":-8},{"x":25.65,"y":12,"e":7,"m":-7},{"x":25.675,"y":19,"e":6,"m":-6},{"x":25.7,"y":10,"e":6,"m":-6},{"x":25.725,"y":13,"e":5,"m":-5},{"x":25.75,"y":11,"e":5,"m":-5},{"x":25.775,"y":14,"e":5,"m":-5},{"x":25.8,"y":10,"e":5,"m":-5},{"x":25.825,"y":12,"e":5,"m":-5},{"x":25.85,"y":9,"e":5,"m":-5},{"x":25.875,"y":13,"e":5,"m":-5},{"x":25.9,"y":11,"e":5,"m":-5},{"x":25.925,"y":10,"e":5,"m":-5},{"x":25.95,"y":14,"e":5,"m":-5},{"x":25.975,"y":10,"e":5,"m":-5},{"x":26.0,"y":12,"e":5,"m":-5},
{"x":26.05,"y":11,"e":5,"m":-5},{"x":26.1,"y":13,"e":5,"m":-5},{"x":26.15,"y":9,"e":4.7,"m":-4.7},{"x":26.2,"y":12,"e":5,"m":-5},{"x":26.25,"y":10,"e":4.7,"m":-4.7},{"x":26.3,"y":14,"e":5.2,"m":-5.2},{"x":26.35,"y":9,"e":4.7,"m":-4.7},{"x":26.4,"y":11,"e":5,"m":-5},{"x":26.45,"y":12,"e":5,"m":-5},{"x":26.5,"y":8,"e":4.3,"m":-4.3},{"x":26.55,"y":10,"e":4.7,"m":-4.7},{"x":26.6,"y":13,"e":5,"m":-5},{"x":26.65,"y":9,"e":4.7,"m":-4.7},{"x":26.7,"y":11,"e":5,"m":-5},{"x":26.75,"y":8,"e":4.3,"m":-4.3},{"x":26.8,"y":12,"e":5,"m":-5},{"x":26.85,"y":10,"e":4.7,"m":-4.7},{"x":26.9,"y":9,"e":4.7,"m":-4.7},{"x":26.95,"y":11,"e":5,"m":-5},{"x":27.0,"y":8,"e":4.3,"m":-4.3},{"x":27.05,"y":12,"e":5,"m":-5},{"x":27.1,"y":10,"e":4.7,"m":-4.7},{"x":27.15,"y":7,"e":4.3,"m":-4.3},{"x":27.2,"y":10,"e":4.7,"m":-4.7},{"x":27.25,"y":11,"e":5,"m":-5},{"x":27.3,"y":9,"e":4.7,"m":-4.7},{"x":27.35,"y":8,"e":4.3,"m":-4.3},{"x":27.4,"y":12,"e":5,"m":-5},{"x":27.45,"y":9,"e":4.7,"m":-4.7},{"x":27.5,"y":10,"e":4.7,"m":-4.7},{"x":27.55,"y":8,"e":4.3,"m":-4.3},{"x":27.6,"y":11,"e":5,"m":-5},{"x":27.65,"y":7,"e":4.3,"m":-4.3},{"x":27.7,"y":9,"e":4.7,"m":-4.7},{"x":27.75,"y":10,"e":4.7,"m":-4.7},{"x":27.8,"y":8,"e":4.3,"m":-4.3},{"x":27.85,"y":11,"e":5,"m":-5},{"x":27.9,"y":7,"e":4.3,"m":-4.3},{"x":27.95,"y":9,"e":4.7,"m":-4.7},{"x":28.0,"y":10,"e":4.7,"m":-4.7},{"x":28.05,"y":8,"e":4.3,"m":-4.3},{"x":28.1,"y":6,"e":4,"m":-4},{"x":28.15,"y":9,"e":4.7,"m":-4.7},{"x":28.2,"y":10,"e":4.7,"m":-4.7},{"x":28.25,"y":7,"e":4.3,"m":-4.3},{"x":28.3,"y":9,"e":4.7,"m":-4.7},{"x":28.35,"y":8,"e":4.3,"m":-4.3},{"x":28.4,"y":11,"e":5,"m":-5},{"x":28.45,"y":7,"e":4.3,"m":-4.3},{"x":28.5,"y":8,"e":4.3,"m":-4.3},{"x":28.55,"y":9,"e":4.7,"m":-4.7},{"x":28.6,"y":6,"e":4,"m":-4},{"x":28.65,"y":8,"e":4.3,"m":-4.3},{"x":28.7,"y":10,"e":4.7,"m":-4.7},{"x":28.75,"y":7,"e":4.3,"m":-4.3},{"x":28.8,"y":8,"e":4.3,"m":-4.3},{"x":28.85,"y":6,"e":4,"m":-4},{"x":28.9,"y":9,"e":4.7,"m":-4.7},{"x":28.95,"y":7,"e":4.3,"m":-4.3},{"x":29.0,"y":8,"e":4.3,"m":-4.3},{"x":29.05,"y":6,"e":4,"m":-4},{"x":29.1,"y":9,"e":4.7,"m":-4.7},{"x":29.15,"y":7,"e":4.3,"m":-4.3},{"x":29.2,"y":8,"e":4.3,"m":-4.3},{"x":29.25,"y":5,"e":3.8,"m":-3.8},{"x":29.3,"y":7,"e":4.3,"m":-4.3},{"x":29.35,"y":8,"e":4.3,"m":-4.3},{"x":29.4,"y":6,"e":4,"m":-4},{"x":29.45,"y":7,"e":4.3,"m":-4.3},{"x":29.5,"y":9,"e":4.7,"m":-4.7},{"x":29.55,"y":6,"e":4,"m":-4},{"x":29.6,"y":7,"e":4.3,"m":-4.3},{"x":29.65,"y":5,"e":3.8,"m":-3.8},{"x":29.7,"y":8,"e":4.3,"m":-4.3},{"x":29.75,"y":6,"e":4,"m":-4},{"x":29.8,"y":7,"e":4.3,"m":-4.3},{"x":29.85,"y":9,"e":4.7,"m":-4.7},{"x":29.9,"y":6,"e":4,"m":-4},{"x":29.95,"y":5,"e":3.8,"m":-3.8},{"x":30.0,"y":7,"e":4.3,"m":-4.3},
{"x":26.025,"y":10,"e":4.7,"m":-4.7},{"x":26.075,"y":14,"e":5.2,"m":-5.2},{"x":26.125,"y":8,"e":4.3,"m":-4.3},{"x":26.175,"y":12,"e":5,"m":-5},{"x":26.225,"y":11,"e":5,"m":-5},{"x":26.275,"y":9,"e":4.7,"m":-4.7},{"x":26.325,"y":13,"e":5,"m":-5},{"x":26.375,"y":10,"e":4.7,"m":-4.7},{"x":26.425,"y":7,"e":4.3,"m":-4.3},{"x":26.475,"y":12,"e":5,"m":-5},{"x":26.525,"y":9,"e":4.7,"m":-4.7},{"x":26.575,"y":11,"e":5,"m":-5},{"x":26.625,"y":14,"e":5.2,"m":-5.2},{"x":26.675,"y":8,"e":4.3,"m":-4.3},{"x":26.725,"y":10,"e":4.7,"m":-4.7},{"x":26.775,"y":12,"e":5,"m":-5},{"x":26.825,"y":7,"e":4.3,"m":-4.3},{"x":26.875,"y":11,"e":5,"m":-5},{"x":26.925,"y":9,"e":4.7,"m":-4.7},{"x":26.975,"y":13,"e":5,"m":-5},{"x":27.025,"y":8,"e":4.3,"m":-4.3},{"x":27.075,"y":10,"e":4.7,"m":-4.7},{"x":27.125,"y":12,"e":5,"m":-5},{"x":27.175,"y":7,"e":4.3,"m":-4.3},{"x":27.225,"y":9,"e":4.7,"m":-4.7},{"x":27.275,"y":11,"e":5,"m":-5},{"x":27.325,"y":6,"e":4,"m":-4},{"x":27.375,"y":10,"e":4.7,"m":-4.7},{"x":27.425,"y":8,"e":4.3,"m":-4.3},{"x":27.475,"y":12,"e":5,"m":-5},{"x":27.525,"y":9,"e":4.7,"m":-4.7},{"x":27.575,"y":7,"e":4.3,"m":-4.3},{"x":27.625,"y":10,"e":4.7,"m":-4.7},{"x":27.675,"y":11,"e":5,"m":-5},{"x":27.725,"y":8,"e":4.3,"m":-4.3},{"x":27.775,"y":6,"e":4,"m":-4},{"x":27.825,"y":9,"e":4.7,"m":-4.7},{"x":27.875,"y":10,"e":4.7,"m":-4.7},{"x":27.925,"y":7,"e":4.3,"m":-4.3},{"x":27.975,"y":12,"e":5,"m":-5},{"x":28.025,"y":9,"e":4.7,"m":-4.7},{"x":28.075,"y":8,"e":4.3,"m":-4.3},{"x":28.125,"y":11,"e":5,"m":-5},{"x":28.175,"y":6,"e":4,"m":-4},{"x":28.225,"y":9,"e":4.7,"m":-4.7},{"x":28.275,"y":10,"e":4.7,"m":-4.7},{"x":28.325,"y":7,"e":4.3,"m":-4.3},{"x":28.375,"y":8,"e":4.3,"m":-4.3},{"x":28.425,"y":10,"e":4.7,"m":-4.7},{"x":28.475,"y":6,"e":4,"m":-4},{"x":28.525,"y":9,"e":4.7,"m":-4.7},{"x":28.575,"y":7,"e":4.3,"m":-4.3},{"x":28.625,"y":10,"e":4.7,"m":-4.7},{"x":28.675,"y":8,"e":4.3,"m":-4.3},{"x":28.725,"y":6,"e":4,"m":-4},{"x":28.775,"y":9,"e":4.7,"m":-4.7},{"x":28.825,"y":8,"e":4.3,"m":-4.3},{"x":28.875,"y":5,"e":3.8,"m":-3.8},{"x":28.925,"y":9,"e":4.7,"m":-4.7},{"x":28.975,"y":7,"e":4.3,"m":-4.3},{"x":29.025,"y":10,"e":4.7,"m":-4.7},{"x":29.075,"y":7,"e":4.3,"m":-4.3},{"x":29.125,"y":6,"e":4,"m":-4},{"x":29.175,"y":9,"e":4.7,"m":-4.7},{"x":29.225,"y":7,"e":4.3,"m":-4.3},{"x":29.275,"y":8,"e":4.3,"m":-4.3},{"x":29.325,"y":6,"e":4,"m":-4},{"x":29.375,"y":9,"e":4.7,"m":-4.7},{"x":29.425,"y":5,"e":3.8,"m":-3.8},{"x":29.475,"y":8,"e":4.3,"m":-4.3},{"x":29.525,"y":7,"e":4.3,"m":-4.3},{"x":29.575,"y":6,"e":4,"m":-4},{"x":29.625,"y":8,"e":4.3,"m":-4.3},{"x":29.675,"y":7,"e":4.3,"m":-4.3},{"x":29.725,"y":9,"e":4.7,"m":-4.7},{"x":29.775,"y":5,"e":3.8,"m":-3.8},{"x":29.825,"y":8,"e":4.3,"m":-4.3},{"x":29.875,"y":6,"e":4,"m":-4},{"x":29.925,"y":7,"e":4.3,"m":-4.3},{"x":29.975,"y":6,"e":4,"m":-4}],
"bCF":[{"x":24.53,"y":1.7,"e":1.3},{"x":24.6,"y":1.3,"e":1.1},{"x":24.68,"y":1.6,"e":1.3},{"x":24.74,"y":3,"e":1.7},{"x":24.78,"y":1.2,"e":1.1},{"x":24.82,"y":1.8,"e":1.3},{"x":24.86,"y":2.5,"e":1.6},{"x":24.89,"y":4.5,"e":2.1},{"x":24.92,"y":4,"e":2},{"x":24.95,"y":3,"e":1.7},{"x":24.97,"y":2.8,"e":1.7},{"x":25.0,"y":4,"e":2},{"x":25.025,"y":5,"e":2.2},{"x":25.05,"y":7,"e":2.6},{"x":25.075,"y":10,"e":3.2},{"x":25.1,"y":13,"e":3.6},{"x":25.125,"y":19,"e":4.4},{"x":25.15,"y":24,"e":4.9},{"x":25.175,"y":30,"e":5.5},{"x":25.2,"y":38,"e":6.2},{"x":25.225,"y":47,"e":6.9},{"x":25.25,"y":60,"e":7.7},{"x":25.275,"y":80,"e":8.9},{"x":25.3,"y":103,"e":10},{"x":25.325,"y":135,"e":11.6},{"x":25.35,"y":165,"e":12.8},{"x":25.375,"y":190,"e":13.8},{"x":25.4,"y":210,"e":14.5},{"x":25.425,"y":225,"e":15},{"x":25.45,"y":232,"e":15.2},{"x":25.475,"y":236,"e":15.4},{"x":25.5,"y":230,"e":15.2},{"x":25.525,"y":215,"e":14.7},{"x":25.55,"y":200,"e":14.1},{"x":25.575,"y":180,"e":13.4},{"x":25.6,"y":155,"e":12.4},{"x":25.625,"y":128,"e":11.3},{"x":25.65,"y":105,"e":10.2},{"x":25.675,"y":85,"e":9.2},{"x":25.7,"y":70,"e":8.4},{"x":25.725,"y":57,"e":7.5},{"x":25.75,"y":42,"e":6.5},{"x":25.775,"y":34,"e":5.8},{"x":25.8,"y":27,"e":5.2},{"x":25.825,"y":21,"e":4.8},{"x":25.85,"y":17,"e":4.6},{"x":25.875,"y":13,"e":4.5},{"x":25.9,"y":11,"e":4.4},{"x":25.925,"y":10,"e":4.3},{"x":25.95,"y":12,"e":4.5},{"x":25.975,"y":9,"e":4.2},{"x":26.0,"y":10,"e":4.3},
{"x":26.05,"y":8,"e":4.2},{"x":26.1,"y":11,"e":4.6},{"x":26.15,"y":6,"e":4},{"x":26.2,"y":9,"e":4.2},{"x":26.25,"y":7,"e":4.2},{"x":26.3,"y":12,"e":4.6},{"x":26.35,"y":5,"e":4},{"x":26.4,"y":9,"e":4.2},{"x":26.45,"y":8,"e":4.2},{"x":26.5,"y":6,"e":4},{"x":26.55,"y":10,"e":4.6},{"x":26.6,"y":7,"e":4.2},{"x":26.65,"y":4,"e":3.5},{"x":26.7,"y":8,"e":4.2},{"x":26.75,"y":9,"e":4.2},{"x":26.8,"y":6,"e":4},{"x":26.85,"y":7,"e":4.2},{"x":26.9,"y":10,"e":4.6},{"x":26.95,"y":5,"e":4},{"x":27.0,"y":8,"e":4.2},{"x":27.05,"y":6,"e":4},{"x":27.1,"y":9,"e":4.2},{"x":27.15,"y":3,"e":2.8},{"x":27.2,"y":7,"e":4.2},{"x":27.25,"y":8,"e":4.2},{"x":27.3,"y":5,"e":4},{"x":27.35,"y":9,"e":4.2},{"x":27.4,"y":6,"e":4},{"x":27.45,"y":7,"e":4.2},{"x":27.5,"y":4,"e":3.5},{"x":27.55,"y":8,"e":4.2},{"x":27.6,"y":6,"e":4},{"x":27.65,"y":9,"e":4.2},{"x":27.7,"y":5,"e":4},{"x":27.75,"y":7,"e":4.2},{"x":27.8,"y":3,"e":2.8},{"x":27.85,"y":8,"e":4.2},{"x":27.9,"y":6,"e":4},{"x":27.95,"y":7,"e":4.2},{"x":28.0,"y":5,"e":4},{"x":28.05,"y":8,"e":4.2},{"x":28.1,"y":4,"e":3.5},{"x":28.15,"y":6,"e":4},{"x":28.2,"y":7,"e":4.2},{"x":28.25,"y":5,"e":4},{"x":28.3,"y":8,"e":4.2},{"x":28.35,"y":6,"e":4},{"x":28.4,"y":3,"e":2.8},{"x":28.45,"y":7,"e":4.2},{"x":28.5,"y":5,"e":4},{"x":28.55,"y":6,"e":4},{"x":28.6,"y":8,"e":4.2},{"x":28.65,"y":4,"e":3.5},{"x":28.7,"y":6,"e":4},{"x":28.75,"y":5,"e":4},{"x":28.8,"y":7,"e":4.2},{"x":28.85,"y":3,"e":2.8},{"x":28.9,"y":6,"e":4},{"x":28.95,"y":5,"e":4},{"x":29.0,"y":7,"e":4.2},{"x":29.05,"y":4,"e":3.5},{"x":29.1,"y":6,"e":4},{"x":29.15,"y":5,"e":4},{"x":29.2,"y":3,"e":2.8},{"x":29.25,"y":7,"e":4.2},{"x":29.3,"y":5,"e":4},{"x":29.35,"y":6,"e":4},{"x":29.4,"y":4,"e":3.5},{"x":29.45,"y":5,"e":4},{"x":29.5,"y":7,"e":4.2},{"x":29.55,"y":3,"e":2.8},{"x":29.6,"y":6,"e":4},{"x":29.65,"y":5,"e":4},{"x":29.7,"y":4,"e":3.5},{"x":29.75,"y":6,"e":4},{"x":29.8,"y":5,"e":4},{"x":29.85,"y":7,"e":4.2},{"x":29.9,"y":4,"e":3.5},{"x":29.95,"y":5,"e":4},{"x":30.0,"y":6,"e":4},
{"x":26.025,"y":10,"e":4.6},{"x":26.075,"y":7,"e":4.2},{"x":26.125,"y":9,"e":4.2},{"x":26.175,"y":12,"e":4.6},{"x":26.225,"y":5,"e":4},{"x":26.275,"y":8,"e":4.2},{"x":26.325,"y":10,"e":4.6},{"x":26.375,"y":6,"e":4},{"x":26.425,"y":4,"e":3.5},{"x":26.475,"y":9,"e":4.2},{"x":26.525,"y":7,"e":4.2},{"x":26.575,"y":11,"e":4.6},{"x":26.625,"y":6,"e":4},{"x":26.675,"y":8,"e":4.2},{"x":26.725,"y":3,"e":2.8},{"x":26.775,"y":7,"e":4.2},{"x":26.825,"y":9,"e":4.2},{"x":26.875,"y":5,"e":4},{"x":26.925,"y":8,"e":4.2},{"x":26.975,"y":6,"e":4},{"x":27.025,"y":10,"e":4.6},{"x":27.075,"y":4,"e":3.5},{"x":27.125,"y":7,"e":4.2},{"x":27.175,"y":6,"e":4},{"x":27.225,"y":9,"e":4.2},{"x":27.275,"y":5,"e":4},{"x":27.325,"y":7,"e":4.2},{"x":27.375,"y":3,"e":2.8},{"x":27.425,"y":8,"e":4.2},{"x":27.475,"y":6,"e":4},{"x":27.525,"y":5,"e":4},{"x":27.575,"y":9,"e":4.2},{"x":27.625,"y":4,"e":3.5},{"x":27.675,"y":7,"e":4.2},{"x":27.725,"y":6,"e":4},{"x":27.775,"y":8,"e":4.2},{"x":27.825,"y":5,"e":4},{"x":27.875,"y":7,"e":4.2},{"x":27.925,"y":3,"e":2.8},{"x":27.975,"y":6,"e":4},{"x":28.025,"y":7,"e":4.2},{"x":28.075,"y":5,"e":4},{"x":28.125,"y":8,"e":4.2},{"x":28.175,"y":4,"e":3.5},{"x":28.225,"y":6,"e":4},{"x":28.275,"y":7,"e":4.2},{"x":28.325,"y":3,"e":2.8},{"x":28.375,"y":5,"e":4},{"x":28.425,"y":8,"e":4.2},{"x":28.475,"y":6,"e":4},{"x":28.525,"y":4,"e":3.5},{"x":28.575,"y":7,"e":4.2},{"x":28.625,"y":5,"e":4},{"x":28.675,"y":6,"e":4},{"x":28.725,"y":3,"e":2.8},{"x":28.775,"y":7,"e":4.2},{"x":28.825,"y":5,"e":4},{"x":28.875,"y":6,"e":4},{"x":28.925,"y":4,"e":3.5},{"x":28.975,"y":8,"e":4.2},{"x":29.025,"y":5,"e":4},{"x":29.075,"y":3,"e":2.8},{"x":29.125,"y":6,"e":4},{"x":29.175,"y":7,"e":4.2},{"x":29.225,"y":4,"e":3.5},{"x":29.275,"y":5,"e":4},{"x":29.325,"y":6,"e":4},{"x":29.375,"y":3,"e":2.8},{"x":29.425,"y":7,"e":4.2},{"x":29.475,"y":5,"e":4},{"x":29.525,"y":4,"e":3.5},{"x":29.575,"y":6,"e":4},{"x":29.625,"y":5,"e":4},{"x":29.675,"y":7,"e":4.2},{"x":29.725,"y":3,"e":2.8},{"x":29.775,"y":5,"e":4},{"x":29.825,"y":6,"e":4},{"x":29.875,"y":4,"e":3.5},{"x":29.925,"y":7,"e":4.2},{"x":29.975,"y":5,"e":4}],
"bCC":[{"x":24.55,"y":1.5,"e":1.2},{"x":24.62,"y":1.2,"e":1.1},{"x":24.68,"y":2.2,"e":1.5},{"x":24.75,"y":1.6,"e":1.3},{"x":24.8,"y":1.3,"e":1.1},{"x":24.86,"y":1.5,"e":1.2},{"x":24.9,"y":1.2,"e":1.1},{"x":24.95,"y":1.8,"e":1.3},{"x":25.0,"y":2.6,"e":1.6},{"x":25.025,"y":3,"e":2.1},{"x":25.05,"y":4,"e":2.4},{"x":25.075,"y":5,"e":2.7},{"x":25.1,"y":5.5,"e":2.8},{"x":25.125,"y":7,"e":3.2},{"x":25.15,"y":9,"e":3.6},{"x":25.175,"y":10,"e":3.8},{"x":25.2,"y":12,"e":4.2},{"x":25.225,"y":16,"e":4.8},{"x":25.25,"y":21,"e":5.5},{"x":25.275,"y":24,"e":5.9},{"x":25.3,"y":29,"e":6.5},{"x":25.325,"y":33,"e":6.9},{"x":25.35,"y":37,"e":7.3},{"x":25.375,"y":41,"e":7.7},{"x":25.4,"y":45,"e":8},{"x":25.425,"y":49,"e":8.4},{"x":25.45,"y":50,"e":8.5},{"x":25.475,"y":48,"e":8.3},{"x":25.5,"y":47,"e":8.2},{"x":25.525,"y":45,"e":8},{"x":25.55,"y":42,"e":7.8},{"x":25.575,"y":38,"e":7.4},{"x":25.6,"y":33,"e":6.9},{"x":25.625,"y":28,"e":6.3},{"x":25.65,"y":24,"e":5.9},{"x":25.675,"y":19,"e":5.2},{"x":25.7,"y":16,"e":4.8},{"x":25.725,"y":13,"e":4.3},{"x":25.75,"y":10,"e":3.8},{"x":25.775,"y":7.5,"e":3.3},{"x":25.8,"y":5.5,"e":2.8},{"x":25.825,"y":4,"e":2.4},{"x":25.85,"y":2.8,"e":2},{"x":25.875,"y":2,"e":1.7},{"x":25.9,"y":1.5,"e":1.4},{"x":25.92,"y":1.4,"e":1.3},{"x":25.95,"y":1.2,"e":1.1},{"x":26.0,"y":1.07,"e":1},{"x":26.07,"y":1.33,"e":1.2},{"x":26.1,"y":1.6,"e":1.4},{"x":26.2,"y":1.14,"e":1},{"x":26.3,"y":1.5,"e":1.4},{"x":26.38,"y":1.4,"e":1.3},{"x":26.5,"y":1.2,"e":1.1},{"x":26.55,"y":1.5,"e":1.4},{"x":26.7,"y":1.3,"e":1.2},{"x":26.95,"y":1.2,"e":1.1},{"x":27.25,"y":1.4,"e":1.3},{"x":27.58,"y":1.4,"e":1.3},{"x":27.97,"y":1.07,"e":1},{"x":28.25,"y":1.07,"e":1},{"x":28.55,"y":1.3,"e":1.2},{"x":28.89,"y":1.2,"e":1.1},{"x":29.15,"y":1.1,"e":1},{"x":29.49,"y":1.3,"e":1.2}]
},
"vconcat":[
{"width":931,"height":311,
"title":{"text":"(a)","anchor":"start","frame":"group","fontSize":20,"fontWeight":"normal","font":"Liberation Sans","color":"#000000","baseline":"top","offset":0,"dx":46,"dy":36},
"encoding":{
"x":{"field":"x","type":"quantitative","scale":{"domain":[24.5,30],"nice":false,"zero":false},"axis":{"values":[24.5,25,25.5,26,26.5,27,27.5,28,28.5,29,29.5,30],"format":".1f","tickSize":-9,"labelPadding":24,"labelFlush":false,"labelOverlap":false,"title":null}},
"y":{"field":"y","type":"quantitative","scale":{"type":"log","domain":[1,1000],"nice":false,"clamp":true},"axis":{"values":[1,2,3,4,5,6,7,8,9,10,20,30,40,50,60,70,80,90,100,200,300,400,500,600,700,800,900,1000],"labelExpr":"datum.value==1?'10⁰':datum.value==10?'10¹':datum.value==100?'10²':datum.value==1000?'10³':''","tickSize":{"condition":{"test":"datum.value==1||datum.value==10||datum.value==100||datum.value==1000","value":-10},"value":-5},"labelPadding":20,"labelOverlap":false,"labelFlush":false,"title":"Counts/TAC Channel","titlePadding":3}}},
"layer":[
{"data":{"name":"aPP"},"mark":{"type":"errorbar","ticks":{"size":10},"thickness":1.2},"encoding":{"yError":{"field":"e"},"color":{"datum":"Peak-Peak","type":"nominal","scale":{"domain":["Peak-Peak","Peak-Compton","Compton-Peak","Compton-Compton"],"range":["#000000","#0000ff","#ffa500","#00ee00"]},"legend":{"title":null,"orient":"none","legendX":623,"legendY":12,"columns":2,"columnPadding":-13,"rowPadding":5,"padding":0,"symbolType":"M-22.4,0M-2.8,-0.5L-2.8,0.5M-2.8,0L2.8,0M2.8,-0.5L2.8,0.5M-0.17,0A0.17,0.17 0 1,1 0.17,0A0.17,0.17 0 1,1 -0.17,0","symbolSize":400,"symbolStrokeWidth":1.5,"labelAlign":"right","labelOffset":-51,"labelLimit":400}}}},
{"data":{"name":"aPP"},"mark":{"type":"point","shape":"circle","filled":false,"size":3,"strokeWidth":2.6},"encoding":{"color":{"datum":"Peak-Peak","type":"nominal"}}},
{"data":{"name":"aPC"},"mark":{"type":"errorbar","ticks":{"size":10},"thickness":1.2},"encoding":{"yError":{"field":"e"},"color":{"datum":"Peak-Compton","type":"nominal"}}},
{"data":{"name":"aPC"},"mark":{"type":"point","shape":"circle","filled":false,"size":3,"strokeWidth":2.6},"encoding":{"color":{"datum":"Peak-Compton","type":"nominal"}}},
{"data":{"name":"aCP"},"mark":{"type":"errorbar","ticks":{"size":10},"thickness":1.2},"encoding":{"yError":{"field":"e"},"color":{"datum":"Compton-Peak","type":"nominal"}}},
{"data":{"name":"aCP"},"mark":{"type":"point","shape":"circle","filled":false,"size":3,"strokeWidth":2.6},"encoding":{"color":{"datum":"Compton-Peak","type":"nominal"}}},
{"data":{"name":"aCC"},"mark":{"type":"errorbar","ticks":{"size":10},"thickness":1.2},"encoding":{"yError":{"field":"e"},"color":{"datum":"Compton-Compton","type":"nominal"}}},
{"data":{"name":"aCC"},"mark":{"type":"point","shape":"circle","filled":false,"size":3,"strokeWidth":2.6},"encoding":{"color":{"datum":"Compton-Compton","type":"nominal"}}}
]},
{"width":931,"height":311,
"title":{"text":"(b)","anchor":"start","frame":"group","fontSize":20,"fontWeight":"normal","font":"Liberation Sans","color":"#000000","baseline":"top","offset":0,"dx":46,"dy":36},
"encoding":{
"x":{"field":"x","type":"quantitative","scale":{"domain":[24.5,30],"nice":false,"zero":false},"axis":{"values":[24.5,25,25.5,26,26.5,27,27.5,28,28.5,29,29.5,30],"format":".1f","tickSize":-9,"labelPadding":24,"labelFlush":false,"labelOverlap":false,"title":"γγ TAC(ns)","titlePadding":18}},
"y":{"field":"y","type":"quantitative","scale":{"type":"log","domain":[1,1000],"nice":false,"clamp":true},"axis":{"values":[1,2,3,4,5,6,7,8,9,10,20,30,40,50,60,70,80,90,100,200,300,400,500,600,700,800,900,1000],"labelExpr":"datum.value==1?'10⁰':datum.value==10?'10¹':datum.value==100?'10²':datum.value==1000?'10³':''","tickSize":{"condition":{"test":"datum.value==1||datum.value==10||datum.value==100||datum.value==1000","value":-10},"value":-5},"labelPadding":20,"labelOverlap":false,"labelFlush":false,"title":"Counts/TAC Channel","titlePadding":3}}},
"layer":[
{"data":{"name":"bFF"},"mark":{"type":"errorbar","ticks":{"size":10},"thickness":1.2},"encoding":{"yError":{"field":"e"},"color":{"datum":"FEP-FEP","type":"nominal","scale":{"domain":["FEP-FEP","FEP-Compton","Compton-FEP","Compton-Compton"],"range":["#ff0000","#0000ff","#ffa500","#00ee00"]},"legend":{"title":null,"orient":"none","legendX":623,"legendY":12,"columns":2,"columnPadding":-13,"rowPadding":5,"padding":0,"symbolType":"M-22.4,0M-2.8,-0.5L-2.8,0.5M-2.8,0L2.8,0M2.8,-0.5L2.8,0.5M-0.17,0A0.17,0.17 0 1,1 0.17,0A0.17,0.17 0 1,1 -0.17,0","symbolSize":400,"symbolStrokeWidth":1.5,"labelAlign":"right","labelOffset":-51,"labelLimit":400}}}},
{"data":{"name":"bFF"},"mark":{"type":"point","shape":"circle","filled":false,"size":3,"strokeWidth":2.6},"encoding":{"color":{"datum":"FEP-FEP","type":"nominal"}}},
{"data":{"name":"bFC"},"mark":{"type":"errorbar","ticks":{"size":10},"thickness":1.2},"encoding":{"yError":{"field":"e"},"yError2":{"field":"m"},"color":{"datum":"FEP-Compton","type":"nominal"}}},
{"data":{"name":"bFC"},"mark":{"type":"point","shape":"circle","filled":false,"size":3,"strokeWidth":2.6},"encoding":{"color":{"datum":"FEP-Compton","type":"nominal"}}},
{"data":{"name":"bCF"},"mark":{"type":"errorbar","ticks":{"size":10},"thickness":1.2},"encoding":{"yError":{"field":"e"},"color":{"datum":"Compton-FEP","type":"nominal"}}},
{"data":{"name":"bCF"},"mark":{"type":"point","shape":"circle","filled":false,"size":3,"strokeWidth":2.6},"encoding":{"color":{"datum":"Compton-FEP","type":"nominal"}}},
{"data":{"name":"bCC"},"mark":{"type":"errorbar","ticks":{"size":10},"thickness":1.2},"encoding":{"yError":{"field":"e"},"color":{"datum":"Compton-Compton","type":"nominal"}}},
{"data":{"name":"bCC"},"mark":{"type":"point","shape":"circle","filled":false,"size":3,"strokeWidth":2.6},"encoding":{"color":{"datum":"Compton-Compton","type":"nominal"}}}
]}
]
}
